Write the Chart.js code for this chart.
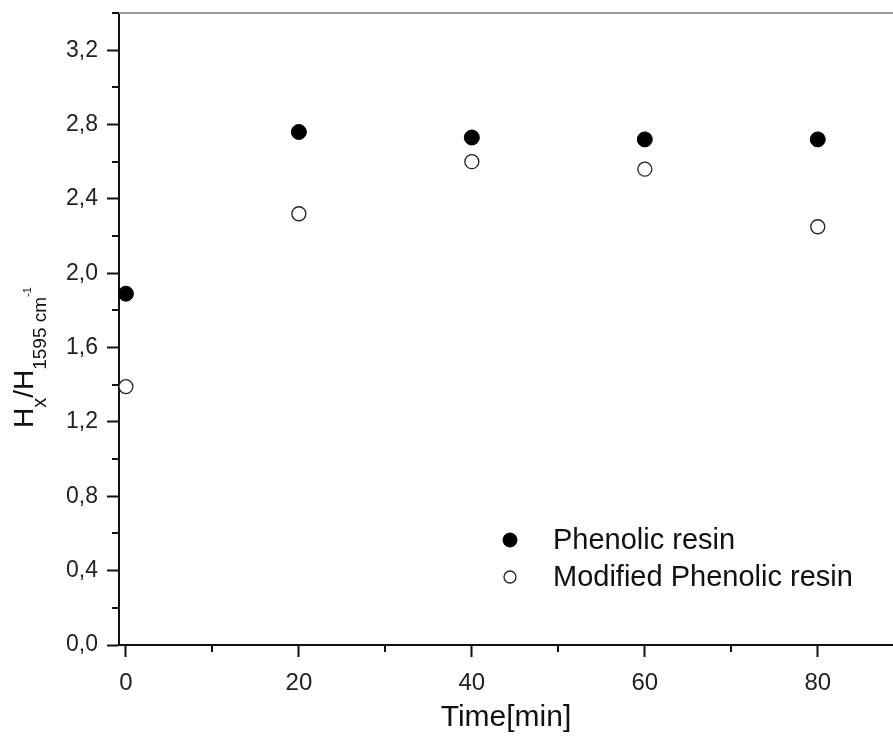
<!DOCTYPE html>
<html>
<head>
<meta charset="utf-8">
<script src="https://cdn.jsdelivr.net/npm/chart.js@4"></script>
<style>
  html, body { margin: 0; padding: 0; background: #fff; }
  #wrap { width: 893px; height: 742px; }
</style>
</head>
<body>
<div id="wrap"><canvas id="ftir-chart"></canvas></div>
<script>
const times = [0, 20, 40, 60, 80];
const phenolic = [1.89, 2.76, 2.73, 2.72, 2.72];
const modified = [1.39, 2.32, 2.60, 2.56, 2.25];
const seriesNames = ['Phenolic resin', 'Modified Phenolic resin'];
const xMinor = [10, 30, 50, 70];
const yMinor = [0.2, 0.6, 1.0, 1.4, 1.8, 2.2, 2.6, 3.0, 3.4];

const FONT = '"Liberation Sans", Arial, sans-serif';

function toPoints(ys) {
    return times.map((t, i) => ({x: t, y: ys[i]}));
}

// small ticks between the labelled ones, placed through the scales
const minorTicks = {
    id: 'minorTicks',
    afterDraw(chart) {
        const ctx = chart.ctx;
        const xs = chart.scales.x, ys = chart.scales.y;
        ctx.save();
        ctx.strokeStyle = '#111';
        ctx.lineWidth = 2;
        ctx.beginPath();
        xMinor.forEach(v => {
            const px = Math.round(xs.getPixelForValue(v));
            ctx.moveTo(px, xs.top);
            ctx.lineTo(px, xs.top + 7);
        });
        yMinor.forEach(v => {
            const py = Math.round(ys.getPixelForValue(v));
            ctx.moveTo(ys.right, py);
            ctx.lineTo(ys.right - 7, py);
        });
        ctx.stroke();
        // grey frame line at top
        ctx.strokeStyle = '#9a9a9a';
        ctx.beginPath();
        ctx.moveTo(chart.chartArea.left, chart.chartArea.top);
        ctx.lineTo(chart.chartArea.right, chart.chartArea.top);
        ctx.stroke();
        ctx.restore();
    }
};

// y title with sub- and superscripts
const yTitle = {
    id: 'yTitle',
    afterDraw(chart) {
        const ctx = chart.ctx;
        ctx.save();
        ctx.translate(33, 428);
        ctx.rotate(-Math.PI / 2);
        ctx.fillStyle = '#111';
        ctx.textAlign = 'left';
        ctx.textBaseline = 'alphabetic';
        let x = 0;
        const part = (txt, size, dy) => {
            ctx.font = size + 'px ' + FONT;
            ctx.fillText(txt, x, dy);
            x += ctx.measureText(txt).width;
        };
        part('H', 28, 0);
        part('x', 20, 13);
        part('/H', 28, 0);
        part('1595 cm', 19, 13);
        part('-1', 11, -2);
        ctx.restore();
    }
};

// legend drawn inside the plot, using dataset styles
const innerLegend = {
    id: 'innerLegend',
    afterDraw(chart) {
        const ctx = chart.ctx;
        ctx.save();
        chart.data.datasets.forEach((ds, i) => {
            const y = 540 + i * 37;
            ctx.beginPath();
            ctx.arc(510, y, i === 0 ? 7 : 6, 0, Math.PI * 2);
            ctx.fillStyle = ds.pointBackgroundColor;
            ctx.fill();
            ctx.lineWidth = ds.pointBorderWidth;
            ctx.strokeStyle = ds.pointBorderColor;
            ctx.stroke();
            ctx.fillStyle = '#111';
            ctx.font = '29px ' + FONT;
            ctx.textBaseline = 'middle';
            ctx.fillText(ds.label, 553, y + 1);
        });
        ctx.restore();
    }
};

new Chart(document.getElementById('ftir-chart'), {
    type: 'scatter',
    data: {
        datasets: [{
            label: seriesNames[0],
            data: toPoints(phenolic),
            pointRadius: 7.5,
            pointBackgroundColor: '#000',
            pointBorderColor: '#000',
            pointBorderWidth: 1
        }, {
            label: seriesNames[1],
            data: toPoints(modified),
            pointRadius: 7,
            pointBackgroundColor: '#fff',
            pointBorderColor: '#222',
            pointBorderWidth: 1.3
        }]
    },
    options: {
        responsive: true,
        maintainAspectRatio: false,
        animation: false,
        layout: {autoPadding: false, padding: {top: 13, right: 0, left: 0, bottom: 0}},
        plugins: {
            legend: {display: false},
            tooltip: {enabled: false}
        },
        scales: {
            x: {
                type: 'linear',
                min: -0.8,
                max: 88.7,
                afterFit(s) { s.height = 97; s.paddingLeft = 0; s.paddingRight = 0; },
                border: {color: '#111', width: 2},
                grid: {drawOnChartArea: false, tickLength: 12, tickColor: '#111', tickWidth: 2},
                ticks: {
                    stepSize: 20,
                    includeBounds: false,
                    padding: 12,
                    color: '#222',
                    font: {family: FONT, size: 24}
                },
                title: {
                    display: true,
                    text: 'Time[min]',
                    color: '#111',
                    font: {family: FONT, size: 30},
                    padding: {top: 0, bottom: 6}
                }
            },
            y: {
                min: 0,
                max: 3.4,
                afterFit(s) { s.width = 119; s.paddingTop = 0; s.paddingBottom = 0; },
                border: {color: '#111', width: 2},
                grid: {drawOnChartArea: false, tickLength: 12, tickColor: '#111', tickWidth: 2},
                ticks: {
                    stepSize: 0.4,
                    includeBounds: false,
                    padding: 9,
                    color: '#222',
                    font: {family: FONT, size: 23},
                    callback: v => v.toFixed(1).replace('.', ',')
                }
            }
        }
    },
    plugins: [minorTicks, yTitle, innerLegend]
});
</script>
</body>
</html>
